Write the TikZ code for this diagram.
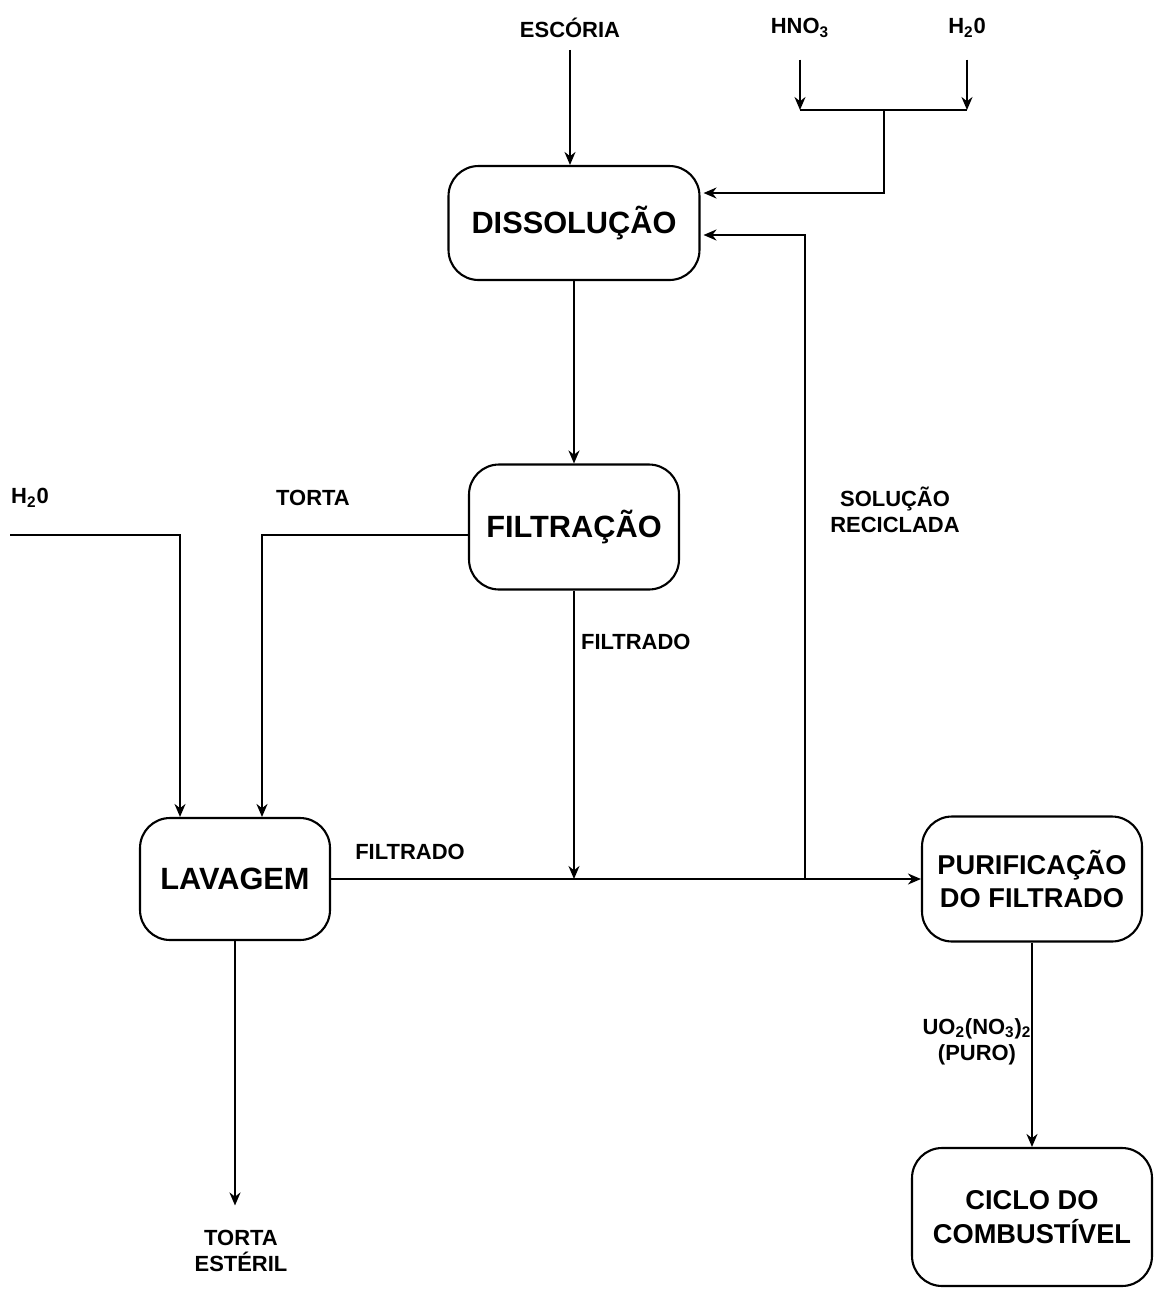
\documentclass[tikz,border=0pt]{standalone}
\usepackage{fontspec}
\setmainfont{Liberation Sans}
\usetikzlibrary{arrows.meta, positioning, calc}

\begin{document}
\begin{tikzpicture}[
        x=0.02cm, y=-0.02cm,
        >={Stealth[length=2.6mm, width=2.2mm]},
        unit/.style={rectangle, rounded corners=0.6cm, draw=black, line width=1.2pt, align=center, font=\bfseries\fontsize{17.5}{21}\selectfont},
        unitsm/.style={unit, font=\bfseries\fontsize{15.5}{19}\selectfont},
        lbl/.style={align=center, inner sep=1pt, font=\bfseries\fontsize{12.5}{15}\selectfont},
        arrow/.style={->, line width=1.2pt, draw=black},
        flow/.style={line width=1.2pt, draw=black}
    ]
    \useasboundingbox (0,0) rectangle (1156,1289);

    % process units
    \node[unit, minimum width=5.02cm, minimum height=2.28cm] (diss) at (574,223) {DISSOLUÇÃO};
    \node[unit, minimum width=4.2cm, minimum height=2.5cm] (filt) at (574,527) {FILTRAÇÃO};
    \node[unit, minimum width=3.8cm, minimum height=2.44cm] (lav) at (235,879) {LAVAGEM};
    \node[unitsm, minimum width=4.4cm, minimum height=2.5cm] (pur) at (1032,879) {PURIFICAÇÃO\\DO FILTRADO};
    \node[unitsm, minimum width=4.8cm, minimum height=2.76cm] (ciclo) at (1032,1217) {CICLO DO\\COMBUSTÍVEL};

    % stream labels
    \node[lbl] (esc) at (570,28) {ESCÓRIA};
    \node[lbl] (hno) at (800,28) {HNO\textsubscript{3}};
    \node[lbl] (agua) at (967,28) {H\textsubscript{2}0};
    \node[lbl] (aguaL) at (30,498) {H\textsubscript{2}0};
    \node[lbl] (torta) at (313,498) {TORTA};
    \node[lbl, anchor=west] (filtA) at (579,642) {FILTRADO};
    \node[lbl] (filtB) at (410,852) {FILTRADO};
    \node[lbl] (sol) at (895,510) {SOLUÇÃO\\RECICLADA};
    \node[lbl] (uo) at (977,1042) {UO\textsubscript{2}(NO\textsubscript{3})\textsubscript{2}\\(PURO)};
    \node[lbl] (est) at (241,1251) {TORTA\\ESTÉRIL};

    \coordinate (hnoj) at (800,110);
    \coordinate (aguaj) at (967,110);
    \coordinate (mix) at (884,110);
    \coordinate (wstart) at (10,535);
    \coordinate (rec) at (805,879);

    \draw[arrow] ([yshift=-0.2cm]esc.south) -- (esc.south |- diss.north);
    \draw[arrow] ([yshift=-0.4cm]hno.south) -- (hnoj);
    \draw[arrow] ([yshift=-0.4cm]agua.south) -- (aguaj);
    \draw[flow] (hnoj) -- (aguaj);
    \draw[arrow] (mix) |- ([xshift=0.06cm, yshift=0.6cm]diss.east);
    \draw[arrow] (diss) -- (filt);
    \draw[arrow] ([yshift=-0.16cm]filt.west) -| ([xshift=0.54cm]lav.north);
    \draw[arrow] (wstart) -| ([xshift=-1.1cm]lav.north);
    \draw[arrow] (filt) -- (filt |- lav);
    \draw[arrow] (lav) -- (pur);
    \draw[arrow] (rec) |- ([xshift=0.06cm, yshift=-0.24cm]diss.east);
    \draw[arrow] (lav.south) -- ([yshift=0.45cm]lav.south |- est.north);
    \draw[arrow] (pur) -- (ciclo);

\end{tikzpicture}
\end{document}
